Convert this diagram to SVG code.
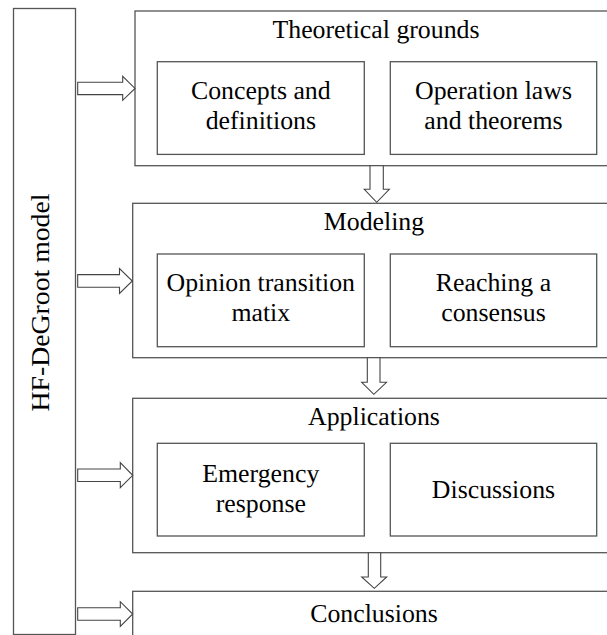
<svg xmlns="http://www.w3.org/2000/svg" width="607" height="635" viewBox="0 0 607 635" text-rendering="geometricPrecision">
<style>
.box{fill:#fff;stroke:#555;stroke-width:1.3}
.arrow{fill:#fff;stroke:#444;stroke-width:1.1;stroke-linejoin:miter}
.t{font-family:"Liberation Serif","Times New Roman",serif;font-size:25.8px;fill:#000;text-anchor:middle;text-rendering:geometricPrecision}
</style>
<rect width="607" height="635" fill="#fff"/>
<g id="left-model">
<rect class="box" x="13.5" y="8.5" width="62" height="626"/>
<text class="t" transform="translate(49.3,302.5) rotate(-90)" textLength="218" lengthAdjust="spacingAndGlyphs">HF-DeGroot model</text>
</g>
<g id="theoretical-grounds">
<rect class="box" x="135" y="11" width="480" height="154.7"/>
<text class="t" x="376" y="38.3">Theoretical grounds</text>
</g>
<g id="concepts">
<rect class="box" x="157.3" y="61.7" width="207" height="92.7"/>
<text class="t" x="260.8" y="98.7">Concepts and</text>
<text class="t" x="260.8" y="128.7">definitions</text>
</g>
<g id="operation-laws">
<rect class="box" x="390.3" y="61.7" width="206.4" height="92.7"/>
<text class="t" x="493.5" y="98.7">Operation laws</text>
<text class="t" x="493.5" y="128.7">and theorems</text>
</g>
<g id="modeling">
<rect class="box" x="132.7" y="203.3" width="482" height="154.4"/>
<text class="t" x="374" y="230.3">Modeling</text>
</g>
<g id="opinion-transition">
<rect class="box" x="157.3" y="254" width="207" height="92.7"/>
<text class="t" x="260.8" y="290.7">Opinion transition</text>
<text class="t" x="260.8" y="321">matix</text>
</g>
<g id="reaching-consensus">
<rect class="box" x="390.3" y="254" width="206.4" height="92.7"/>
<text class="t" x="493.5" y="290.7">Reaching a</text>
<text class="t" x="493.5" y="321">consensus</text>
</g>
<g id="applications">
<rect class="box" x="132.7" y="398.3" width="482" height="154.4"/>
<text class="t" x="374" y="424.5">Applications</text>
</g>
<g id="emergency-response">
<rect class="box" x="157.3" y="443.3" width="207" height="92.7"/>
<text class="t" x="260.8" y="481.7">Emergency</text>
<text class="t" x="260.8" y="512.3">response</text>
</g>
<g id="discussions">
<rect class="box" x="390.3" y="443.3" width="206.4" height="92.7"/>
<text class="t" x="493.5" y="498">Discussions</text>
</g>
<g id="conclusions">
<rect class="box" x="132.7" y="591.3" width="482" height="60"/>
<text class="t" x="374" y="621.7">Conclusions</text>
</g>
<g id="connectors">
<polygon class="arrow" points="77.7,82.3 122.7,82.3 122.7,76.3 135,88.4 122.7,100.3 122.7,94.6 77.7,94.6"/>
<polygon class="arrow" points="77.7,274.6 119.5,274.6 119.5,268.5 132.3,281 119.5,293.5 119.5,287.3 77.7,287.3"/>
<polygon class="arrow" points="77.7,469 120.3,469 120.3,462.7 132.7,475.3 120.3,487.7 120.3,481.5 77.7,481.5"/>
<polygon class="arrow" points="77.7,607.7 120.3,607.7 120.3,601.7 132.7,614 120.3,626.5 120.3,620.2 77.7,620.2"/>
<polygon class="arrow" points="370,165.7 383.3,165.7 383.3,189.3 389.3,189.3 376.7,202.3 364.3,189.3 370,189.3"/>
<polygon class="arrow" points="367.3,357.7 380,357.7 380,382.3 386.5,382.3 373.8,394.3 361.7,382.3 367.3,382.3"/>
<polygon class="arrow" points="368.3,552.7 380.7,552.7 380.7,577 386.7,577 374.3,588.3 361.7,577 368.3,577"/>
</g>
</svg>
